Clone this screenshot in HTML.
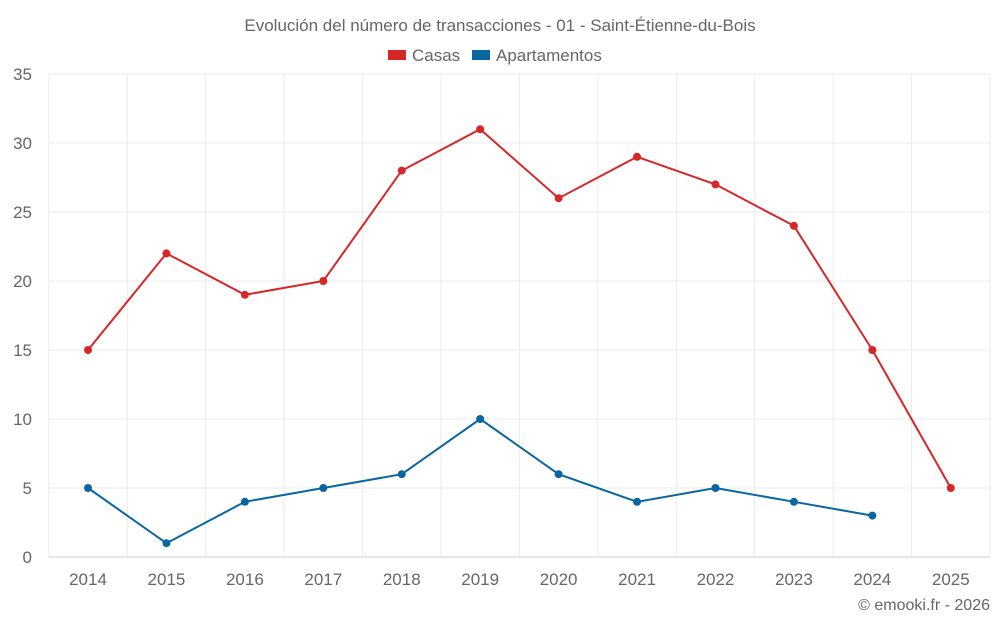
<!DOCTYPE html>
<html><head><meta charset="utf-8"><style>
body{margin:0;background:#fff;font-family:"Liberation Sans",sans-serif;}
svg text{font-family:"Liberation Sans",sans-serif;fill:#666;}
</style></head><body>
<svg id="chart" width="1000" height="625">
<text x="500" y="31" text-anchor="middle" font-size="17">Evolución del número de transacciones - 01 - Saint-Étienne-du-Bois</text>
<g>
<g><rect x="388" y="50" width="18" height="10" fill="#d62728"/><text x="412" y="61" font-size="17">Casas</text></g>
<g><rect x="472" y="50" width="18" height="10" fill="#0a66a0"/><text x="496" y="61" font-size="17">Apartamentos</text></g>
</g>
<g id="grid"></g><g id="axes"></g><g id="series"></g>
<text x="990" y="610" text-anchor="end" font-size="16">© emooki.fr - 2026</text>
</svg>
<script>
const categories=["2014","2015","2016","2017","2018","2019","2020","2021","2022","2023","2024","2025"];
const casas=[15,22,19,20,28,31,26,29,27,24,15,5];
const apartamentos=[5,1,4,5,6,10,6,4,5,4,3,null];
const yTicks=[0,5,10,15,20,25,30,35];
const NS="http://www.w3.org/2000/svg";
const L=48.8,R=990,T=74,B=557,yMax=35;
const band=(R-L)/categories.length;
const x=i=>L+band*(i+0.5);
const y=v=>B-(v/yMax)*(B-T);
function mk(tag,attrs,parent){const e=document.createElementNS(NS,tag);for(const k in attrs)e.setAttribute(k,attrs[k]);parent.appendChild(e);return e;}
const grid=document.getElementById('grid'),axes=document.getElementById('axes'),series=document.getElementById('series');
yTicks.forEach(t=>{
 const l=mk('line',{x1:L,x2:R,y1:y(t),y2:y(t),stroke:t===0?'#ccc':'#ebebeb','stroke-width':1},grid);
 
 
 const tx=mk('text',{x:32,y:y(t)+6,'text-anchor':'end','font-size':17},axes);
 tx.textContent=t;
 
 
});
for(let i=0;i<=categories.length;i++){
 const l=mk('line',{x1:L+band*i,x2:L+band*i,y1:T,y2:B+(i===0?0:0),stroke:'#ebebeb','stroke-width':1},grid);
 
 
}
categories.forEach((c,i)=>{
 const tx=mk('text',{x:x(i),y:585,'text-anchor':'middle','font-size':17},axes);
 tx.textContent=c;
 
 
});
function draw(data,color,name){
 const pts=[];data.forEach((v,i)=>{if(v!==null)pts.push([x(i),y(v)]);});
 const p=mk('polyline',{points:pts.map(p=>p.join(',')).join(' '),fill:'none',stroke:color,'stroke-width':2},series);
 
 
 pts.forEach(pt=>{
  const c=mk('circle',{cx:pt[0],cy:pt[1],r:4,fill:color},series);
  
  
 });
}
draw(casas,'#d62728','casas');
draw(apartamentos,'#0a66a0','apartamentos');
</script>
</body></html>
